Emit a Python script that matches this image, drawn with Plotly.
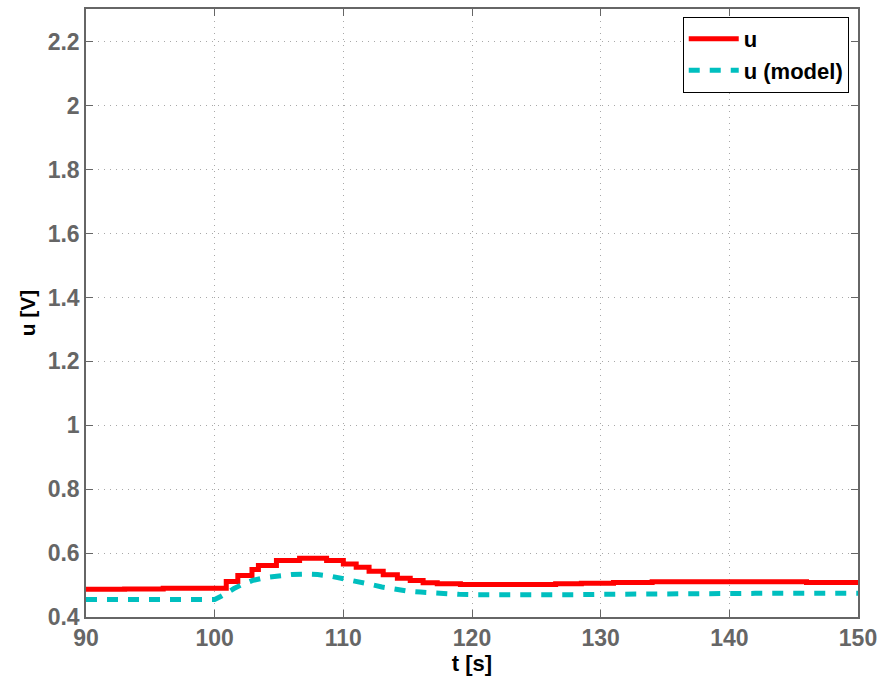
import plotly.graph_objects as go

# Measured input (zero-order hold steps): switch times [s] and levels [V]
u_t = [90, 93, 96, 100.9, 101.8, 102.9, 103.4, 104.8, 106.6, 108.7, 110.0,
       111.0, 112.0, 113.1, 114.2, 115.2, 116.2, 117.3, 119.1, 126.5, 128.5,
       131.0, 134.0, 146.0, 150.0]
u_val = [0.487, 0.488, 0.490, 0.511, 0.530, 0.549, 0.561, 0.577, 0.584, 0.577,
         0.566, 0.556, 0.543, 0.532, 0.521, 0.514, 0.507, 0.504, 0.502, 0.504,
         0.506, 0.508, 0.510, 0.508, 0.508]

# Model-predicted input
model_t = [90, 95, 100, 100.5, 101, 101.5, 102, 102.5, 103, 104, 105, 106, 107,
           108, 109, 110, 111, 112, 113, 114, 115, 116, 117, 118, 119, 120, 122,
           124, 126, 128, 130, 134, 138, 142, 146, 150]
model_val = [0.455, 0.455, 0.455, 0.465, 0.478, 0.489, 0.499, 0.508, 0.515,
             0.524, 0.529, 0.533, 0.534, 0.533, 0.528, 0.521, 0.512, 0.503,
             0.494, 0.486, 0.481, 0.478, 0.475, 0.473, 0.471, 0.470, 0.469,
             0.468, 0.469, 0.470, 0.471, 0.473, 0.474, 0.474, 0.474, 0.474]

x_ticks = [90, 100, 110, 120, 130, 140, 150]
y_ticks = [0.4, 0.6, 0.8, 1.0, 1.2, 1.4, 1.6, 1.8, 2.0, 2.2]
y_tick_text = ["0.4", "0.6", "0.8", "1", "1.2", "1.4", "1.6", "1.8", "2", "2.2"]

FONT = "Liberation Sans, Arial, Helvetica, sans-serif"

fig = go.Figure()
fig.add_trace(go.Scatter(
    x=u_t, y=u_val, name="u", mode="lines", line_shape="hv",
    line=dict(color="#FF0000", width=5),
))
fig.add_trace(go.Scatter(
    x=model_t, y=model_val, name="u (model)", mode="lines",
    line=dict(color="#00BFBF", width=5, dash="11px,10px"),
))

axis_common = dict(
    showline=True, linecolor="#666666", linewidth=1.5, mirror="ticks",
    ticks="inside", ticklen=7, tickcolor="#666666", tickwidth=1,
    showgrid=True, gridcolor="#a8a8a8", gridwidth=1, griddash="1px,5px",
    zeroline=False, automargin=False,
    tickfont=dict(family=FONT, size=23, color="#666666", weight="bold"),
)

fig.update_xaxes(
    range=[90, 150], tickvals=x_ticks,
    title=dict(text="t [s]", standoff=2,
               font=dict(family=FONT, size=22, color="#000000", weight="bold")),
    **axis_common,
)
fig.update_yaxes(
    range=[0.4, 2.303], tickvals=y_ticks, ticktext=y_tick_text,
    title=dict(text="u [V]", standoff=6,
               font=dict(family=FONT, size=21, color="#000000", weight="bold")),
    **axis_common,
)

fig.update_layout(
    width=881, height=680,
    margin=dict(l=86, r=23, t=9, b=63),
    paper_bgcolor="white", plot_bgcolor="white",
    showlegend=True,
    legend=dict(
        x=0.988, y=0.987, xanchor="right", yanchor="top",
        bgcolor="white", bordercolor="#000000", borderwidth=1,
        font=dict(family=FONT, size=22, color="#000000", weight="bold"),
        tracegroupgap=0, itemwidth=50,
    ),
)

fig.write_html("out.html")
